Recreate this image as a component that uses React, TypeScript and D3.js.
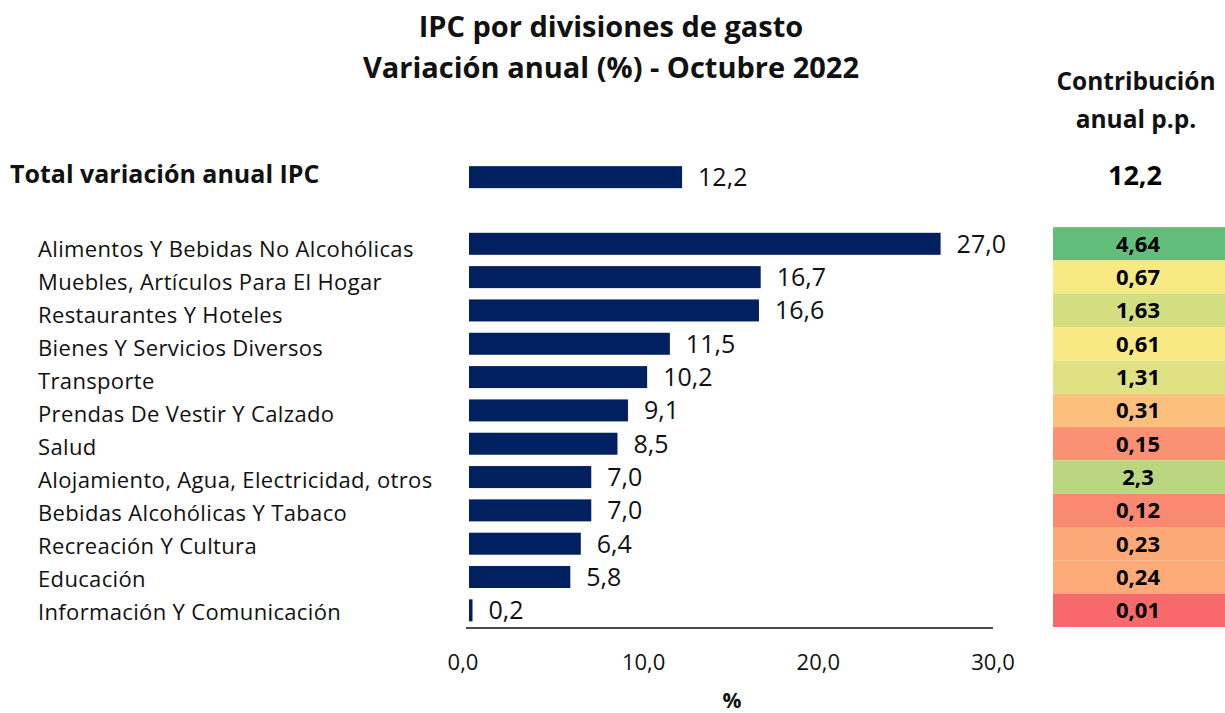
import React from "react";
import * as d3 from "d3";

const categories = [
  "Alimentos Y Bebidas No Alcohólicas",
  "Muebles, Artículos Para El Hogar",
  "Restaurantes Y Hoteles",
  "Bienes Y Servicios Diversos",
  "Transporte",
  "Prendas De Vestir Y Calzado",
  "Salud",
  "Alojamiento, Agua, Electricidad, otros",
  "Bebidas Alcohólicas Y Tabaco",
  "Recreación Y Cultura",
  "Educación",
  "Información Y Comunicación",
];
const variation = [27.0, 16.7, 16.6, 11.5, 10.2, 9.1, 8.5, 7.0, 7.0, 6.4, 5.8, 0.2];
const contribution = [4.64, 0.67, 1.63, 0.61, 1.31, 0.31, 0.15, 2.3, 0.12, 0.23, 0.24, 0.01];
const contributionLabels = ["4,64", "0,67", "1,63", "0,61", "1,31", "0,31", "0,15", "2,3", "0,12", "0,23", "0,24", "0,01"];
const totalLabel = "Total variación anual IPC";
const totalValue = 12.2;
const xTicks = [0, 10, 20, 30];

const FONT = "'Open Sans', 'Noto Sans', sans-serif";
const BAR = "#002060";

export default function App() {
  const W = 1225, H = 713;
  const x = d3.scaleLinear().domain([0, 30]).range([469, 993]);
  const keys = ["__total", "__gap", ...categories];
  const y = d3.scaleBand<string>().domain(keys).range([160.5, 627]);
  const bw = y.bandwidth();
  const bh = bw * 0.66;
  const fmt1 = (v: number) => d3.format(".1f")(v).replace(".", ",");
  const sorted = [...contribution].sort((a, b) => a - b);
  const color = d3
    .scaleLinear<string>()
    .domain([d3.min(contribution)!, d3.median(sorted)!, d3.max(contribution)!])
    .range(["#F8696B", "#FFEB84", "#63BE7B"])
    .interpolate(d3.interpolateRgb);

  const totalY = y("__total")! + bw / 2;
  const cellX = 1053, cellW = 172;

  return (
    <svg width={W} height={H} style={{ position: "absolute", left: 0, top: 0, background: "#fff" }} fontFamily={FONT}>
      <text x={611} y={37} textAnchor="middle" fontSize={29} fontWeight="bold" fill="#111">IPC por divisiones de gasto</text>
      <text x={611} y={78} textAnchor="middle" fontSize={29} fontWeight="bold" fill="#111">Variación anual (%) - Octubre 2022</text>

      <text x={10} y={183} fontSize={25} fontWeight="bold" fill="#111">{totalLabel}</text>
      <rect x={x(0)} y={totalY - bh / 2} width={x(totalValue) - x(0)} height={bh} fill={BAR} />
      <text x={x(totalValue) + 16} y={totalY + 9} fontSize={25} fill="#111">{fmt1(totalValue)}</text>

      {categories.map((c, i) => {
        const cy = y(c)! + bw / 2;
        return (
          <g key={c}>
            <text x={38} y={cy + 13 - i * 0.3} fontSize={22} letterSpacing={0.35} fill="#111">{c}</text>
            <rect x={x(0)} y={cy - bh / 2} width={Math.max(2.5, x(variation[i]) - x(0))} height={bh} fill={BAR} />
            <text x={Math.max(x(variation[i]), x(0) + 3) + 16} y={cy + 9} fontSize={25} fill="#111">{fmt1(variation[i])}</text>
            <rect x={cellX} y={y(c)!} width={cellW} height={bw} fill={color(contribution[i])} />
            <text x={1138} y={cy + 8} textAnchor="middle" fontSize={22} fontWeight="bold" fill="#000">{contributionLabels[i]}</text>
          </g>
        );
      })}

      <line x1={466} x2={993} y1={628} y2={628} stroke="#111" strokeWidth={1.5} />
      {xTicks.map((t) => (
        <text key={t} x={x(t) - (t === 0 ? 6 : 0)} y={670} textAnchor="middle" fontSize={22} fill="#111">{fmt1(t)}</text>
      ))}
      <text x={732} y={708} textAnchor="middle" fontSize={21} fontWeight="bold" fill="#111">%</text>

      <text x={1136} y={90} textAnchor="middle" fontSize={24.5} fontWeight="bold" fill="#111">Contribución</text>
      <text x={1136} y={128} textAnchor="middle" fontSize={24.5} fontWeight="bold" fill="#111">anual p.p.</text>
      <text x={1135} y={185} textAnchor="middle" fontSize={27} fontWeight="bold" fill="#000">{fmt1(totalValue)}</text>
    </svg>
  );
}
